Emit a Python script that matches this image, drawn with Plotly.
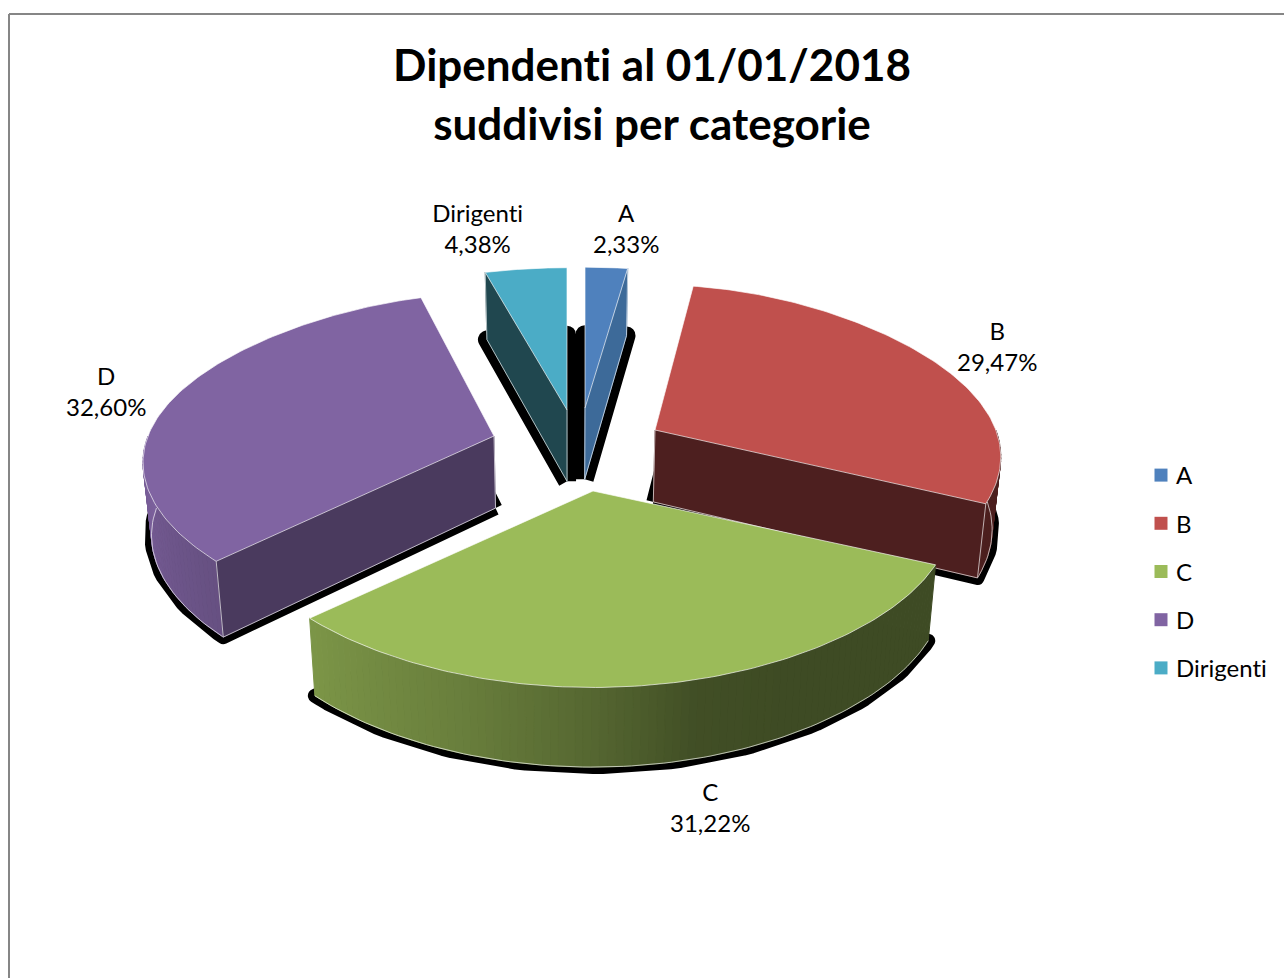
import numpy as np
import plotly.graph_objects as go

# ---- data ----
categories = ["A", "B", "C", "D", "Dirigenti"]
percentages = [2.33, 29.47, 31.22, 32.60, 4.38]
title_lines = ["Dipendenti al 01/01/2018", "suddivisi per categorie"]

# ---- style ----
base_colors = ["#4f81bd", "#c0504d", "#9bbb59", "#8064a2", "#4bacc6"]
flat_side = {"A": ("end", "#3d6a99"), "B": ("end", "#4d1f1f"),
             "D": ("start", "#4a3a5e"), "Dirigenti": ("start", "#20474f")}
FONT = "Lato"

# ---- 3D-pie view (exploded wedge apex on screen, ellipse radii, perspective) ----
apex = {"A": (585, 408), "B": (655, 430), "C": (593, 491), "D": (494, 436), "Dirigenti": (567, 410)}
radius_scale = {"A": (1.10, 0.97), "B": (0.985, 1.0), "C": (1.02, 1.0), "D": (1.0, 0.985), "Dirigenti": (1.12, 0.98)}
shadow_width = {"A": 18, "B": 14, "C": 14, "D": 14, "Dirigenti": 18}
label_pos = {"A": (626, 228), "B": (997, 346), "C": (710, 807), "D": (106, 391), "Dirigenti": (477, 228)}
RX, RY, PY = 346.0, 167.0, 0.15
VANISH_X, SHRINK = 570.0, 0.98


def project(name, theta_deg):
    t = np.radians(theta_deg)
    X, Y = np.sin(t), -np.cos(t)
    ax, ay = apex[name]
    fx, fy = radius_scale[name]
    return ax + fx * RX * X * (1 + 0.182 * Y - 0.052 * Y ** 2), ay + fy * RY * Y / (1 - PY * Y)


def drop(x, y):
    """Top-face point -> matching point on the bottom face."""
    x, y = np.asarray(x, float), np.asarray(y, float)
    return VANISH_X + (x - VANISH_X) * SHRINK, y + 71 + 0.03 * (y - 400)


def shade(theta):
    return float(np.interp(theta, [150, 165, 180, 200, 227, 270], [.40, .42, .55, .68, .80, .97]))


def scaled(hex_color, k):
    r, g, b = [int(hex_color[i:i + 2], 16) for i in (1, 3, 5)]
    return f"rgb({r * k:.0f},{g * k:.0f},{b * k:.0f})"


def poly(fig, x, y, color, line=None, width=1):
    fig.add_trace(go.Scatter(x=list(x), y=list(y), mode="lines", fill="toself", fillcolor=color,
                             line=dict(color=line or color, width=width), hoverinfo="skip", showlegend=False))


def edge(fig, x, y):
    fig.add_trace(go.Scatter(x=list(x), y=list(y), mode="lines",
                             line=dict(color="rgba(255,255,255,0.65)", width=1),
                             hoverinfo="skip", showlegend=False))


total = sum(percentages)
ends = np.cumsum(percentages) / total * 360
starts = np.concatenate([[0], ends[:-1]])
span = {c: (s, e) for c, s, e in zip(categories, starts, ends)}
color_of = dict(zip(categories, base_colors))

fig = go.Figure()

# black shadows beneath every exploded wedge
for name in categories:
    s, e = span[name]
    th = np.linspace(s, e, 80)
    ox, oy = project(name, th)
    px_, py_ = drop(np.r_[apex[name][0], ox, apex[name][0]], np.r_[apex[name][1], oy, apex[name][1]])
    poly(fig, px_, py_, "#000000", "#000000", shadow_width[name])

# wedges, back to front
for name in ["Dirigenti", "A", "D", "B", "C"]:
    s, e = span[name]
    base = color_of[name]
    ax, ay = apex[name]

    # curved outer wall in small shaded strips
    lo, hi = max(s, 90), min(e, 270)
    if hi > lo:
        th = np.linspace(lo, hi, int((hi - lo) / 1.2) + 2)
        for a, b in zip(th[:-1], th[1:]):
            xa, ya = project(name, np.array([a, b]))
            xb, yb = drop(xa, ya)
            poly(fig, [xa[0], xa[1], xb[1], xb[0], xa[0]], [ya[0], ya[1], yb[1], yb[0], ya[0]],
                 scaled(base, shade((a + b) / 2)))
        xa, ya = project(name, th)
        xb, yb = drop(xa, ya)
        edge(fig, xb, yb)

    # flat cut side
    if name in flat_side:
        which, col = flat_side[name]
        th0 = s if which == "start" else e
        ox, oy = project(name, th0)
        bx, by = drop([ax, ox], [ay, oy])
        poly(fig, [ax, ox, bx[1], bx[0], ax], [ay, oy, by[1], by[0], ay], col)
        edge(fig, [ox, bx[1]], [oy, by[1]])
        edge(fig, bx, by)
        edge(fig, [ax, bx[0]], [ay, by[0]])

    # top face
    th = np.linspace(s, e, 120)
    ox, oy = project(name, th)
    poly(fig, np.r_[ax, ox, ax], np.r_[ay, oy, ay], base, "rgba(255,255,255,0.65)", 1)

# legend entries
for name, col in zip(categories, base_colors):
    fig.add_trace(go.Scatter(x=[None], y=[None], mode="markers", name=name, legendgroup=name,
                             marker=dict(symbol="square", size=13, color=col)))

# data labels
annotations = []
for name, p in zip(categories, percentages):
    lx, ly = label_pos[name]
    annotations.append(dict(x=lx, y=ly, xref="x", yref="y", showarrow=False, xanchor="center", yanchor="middle",
                            text=f"{name}<br>{p:.2f}%".replace(".", ","),
                            font=dict(family=FONT, size=24, color="#000000")))

title_text = "<br>".join(f'<span style="font-size:44px">{t}</span>' for t in title_lines)

fig.update_layout(
    width=1284, height=978, margin=dict(l=0, r=0, t=0, b=0, pad=0),
    paper_bgcolor="white", plot_bgcolor="white",
    title=dict(text=title_text, x=652 / 1284, xanchor="center", y=1 - 81 / 978, yanchor="middle",
               font=dict(family=FONT, size=45, color="#000000", weight="bold")),
    xaxis=dict(range=[0, 1284], visible=False, fixedrange=True),
    yaxis=dict(range=[978, 0], visible=False, fixedrange=True),
    legend=dict(x=1136 / 1284, xanchor="left", y=1 - 453 / 978, yanchor="top", tracegroupgap=14,
                font=dict(family=FONT, size=24, color="#000000"), bgcolor="rgba(0,0,0,0)"),
    annotations=annotations,
    shapes=[dict(type="line", xref="x", yref="y", x0=9, x1=1284, y0=14, y1=14, line=dict(color="#868686", width=2)),
            dict(type="line", xref="x", yref="y", x0=9, x1=9, y0=14, y1=978, line=dict(color="#868686", width=2))],
)

page_css = """
document.body.style.margin = '0';
document.body.style.overflow = 'hidden';
document.querySelectorAll('.js-line').forEach(function (p) { p.style.strokeLinejoin = 'round'; });
document.querySelectorAll('text').forEach(function (t) { t.style.fontVariantLigatures = 'none'; });
document.querySelectorAll('.legendsymbols').forEach(function (g) { g.setAttribute('transform', 'translate(5,0)'); });
"""
fig.write_html("out.html", post_script=page_css, config={"displayModeBar": False})
